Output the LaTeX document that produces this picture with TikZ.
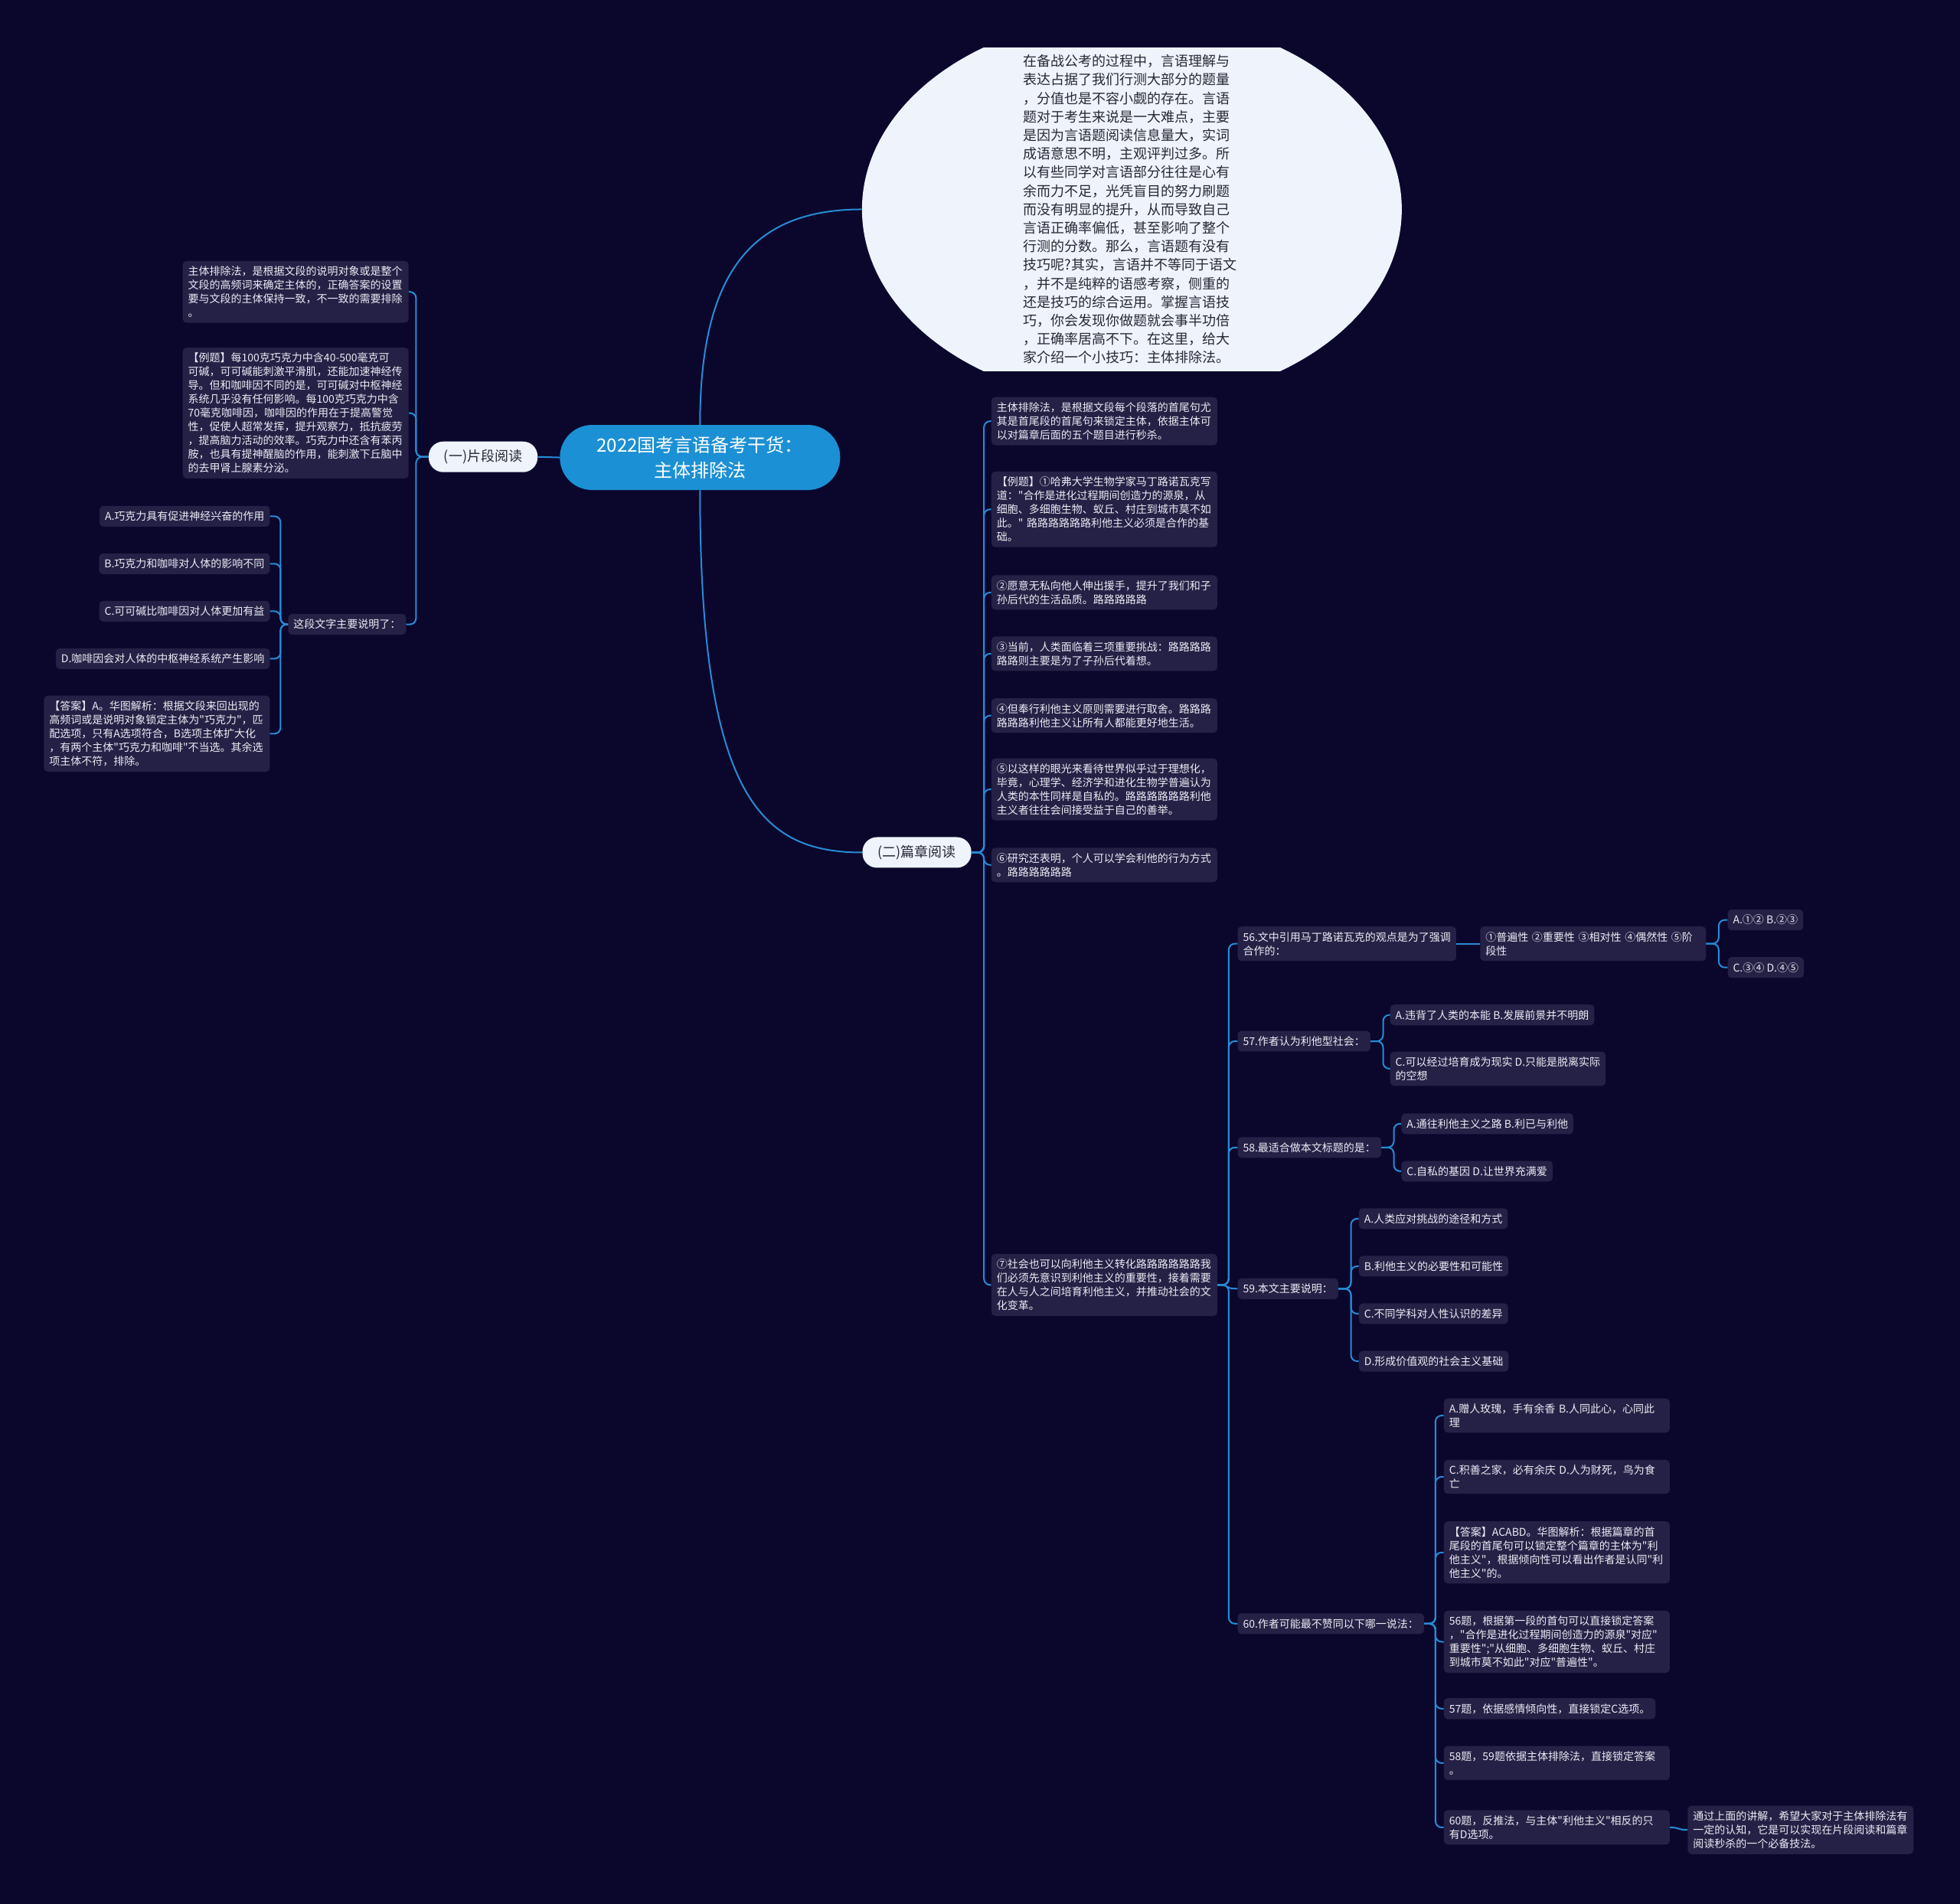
\documentclass[tikz,border=0pt]{standalone}
\usepackage{fontspec}
\newfontfamily\cjk{Noto Sans CJK SC}
\usetikzlibrary{shapes.geometric}
\definecolor{bgcol}{RGB}{11,7,44}
\definecolor{boxcol}{RGB}{37,33,70}
\definecolor{linecol}{RGB}{38,140,214}
\definecolor{rootcol}{RGB}{28,144,212}
\definecolor{lightcol}{RGB}{238,243,252}
\definecolor{txtcol}{RGB}{236,236,244}
\definecolor{darktxt}{RGB}{40,40,52}
\tikzset{
  box/.style={font=\cjk\fontsize{14}{18}\selectfont, text=txtcol, fill=boxcol, rounded corners=5pt, inner xsep=7pt, inner ysep=7pt, align=left},
  widebox/.style={box, text width=281pt},
  pill/.style={font=\cjk\fontsize{18}{22}\selectfont, text=darktxt, fill=lightcol, rounded corners=19pt, minimum height=40pt, inner xsep=20pt, inner ysep=0pt},
  link/.style={draw=linecol, line width=2pt, rounded corners=8pt},
}
\begin{document}
\begin{tikzpicture}[x=1.632653pt,y=-1.632653pt]
\fill[bgcol] (0,0) rectangle (1568,1523);
\useasboundingbox (0,0) rectangle (1568,1523);

% flattened ellipse with intro text
\begin{scope}
\clip (689,38) rectangle (1122,297);
\node[ellipse, fill=lightcol, inner sep=0pt, minimum width=705pt, minimum height=506pt] (ell) at (905.5,167.5) {};
\end{scope}
\node[font=\cjk\fontsize{18}{24.2}\selectfont, text=darktxt, align=left, text width=280pt, inner sep=0pt] (elltext) at (904.5,167.5) {在备战公考的过程中，言语理解与\\表达占据了我们行测大部分的题量\\，分值也是不容小觑的存在。言语\\题对于考生来说是一大难点，主要\\是因为言语题阅读信息量大，实词\\成语意思不明，主观评判过多。所\\以有些同学对言语部分往往是心有\\余而力不足，光凭盲目的努力刷题\\而没有明显的提升，从而导致自己\\言语正确率偏低，甚至影响了整个\\行测的分数。那么，言语题有没有\\技巧呢?其实，言语并不等同于语文\\，并不是纯粹的语感考察，侧重的\\还是技巧的综合运用。掌握言语技\\巧，你会发现你做题就会事半功倍\\，正确率居高不下。在这里，给大\\家介绍一个小技巧：主体排除法。};

% root
\node[fill=rootcol, text=white, font=\cjk\fontsize{24}{33}\selectfont, align=center, minimum width=366pt, minimum height=85pt, rounded corners=42pt, inner sep=0pt] (root) at (560,366) {2022国考言语备考干货：\\主体排除法};

\node[pill] (p1) at (386.5,365.5) {(一)片段阅读};
\node[pill] (p2) at (733.5,682) {(二)篇章阅读};

% left branch
\node[widebox, anchor=east] (l1) at (327,233.5) {主体排除法，是根据文段的说明对象或是整个\\文段的高频词来确定主体的，正确答案的设置\\要与文段的主体保持一致，不一致的需要排除\\。};
\node[widebox, anchor=east] (l2) at (327,330.5) {【例题】每100克巧克力中含40-500毫克可\\可碱，可可碱能刺激平滑肌，还能加速神经传\\导。但和咖啡因不同的是，可可碱对中枢神经\\系统几乎没有任何影响。每100克巧克力中含\\70毫克咖啡因，咖啡因的作用在于提高警觉\\性，促使人超常发挥，提升观察力，抵抗疲劳\\，提高脑力活动的效率。巧克力中还含有苯丙\\胺，也具有提神醒脑的作用，能刺激下丘脑中\\的去甲肾上腺素分泌。};
\node[box, anchor=east] (l3) at (325,499.5) {这段文字主要说明了：};
\node[box, anchor=east] (oa) at (216,413) {A.巧克力具有促进神经兴奋的作用};
\node[box, anchor=east] (ob) at (216,451) {B.巧克力和咖啡对人体的影响不同};
\node[box, anchor=east] (oc) at (216,489) {C.可可碱比咖啡因对人体更加有益};
\node[box, anchor=east] (od) at (216,527) {D.咖啡因会对人体的中枢神经系统产生影响};
\node[widebox, anchor=east] (oans) at (216,587) {【答案】A。华图解析：根据文段来回出现的\\高频词或是说明对象锁定主体为"巧克力"，匹\\配选项，只有A选项符合，B选项主体扩大化\\，有两个主体"巧克力和咖啡"不当选。其余选\\项主体不符，排除。};

% right branch
\node[widebox, anchor=west] (r1) at (793,337) {主体排除法，是根据文段每个段落的首尾句尤\\其是首尾段的首尾句来锁定主体，依据主体可\\以对篇章后面的五个题目进行秒杀。};
\node[widebox, anchor=west] (r2) at (793,407.5) {【例题】①哈弗大学生物学家马丁路诺瓦克写\\道："合作是进化过程期间创造力的源泉，从\\细胞、多细胞生物、蚁丘、村庄到城市莫不如\\此。" 路路路路路路利他主义必须是合作的基\\础。};
\node[widebox, anchor=west] (r3) at (793,474) {②愿意无私向他人伸出援手，提升了我们和子\\孙后代的生活品质。路路路路路};
\node[widebox, anchor=west] (r4) at (793,523) {③当前，人类面临着三项重要挑战：路路路路\\路路则主要是为了子孙后代着想。};
\node[widebox, anchor=west] (r5) at (793,572.5) {④但奉行利他主义原则需要进行取舍。路路路\\路路路利他主义让所有人都能更好地生活。};
\node[widebox, anchor=west] (r6) at (793,631.5) {⑤以这样的眼光来看待世界似乎过于理想化，\\毕竟，心理学、经济学和进化生物学普遍认为\\人类的本性同样是自私的。路路路路路路利他\\主义者往往会间接受益于自己的善举。};
\node[widebox, anchor=west] (r7) at (793,692) {⑥研究还表明，个人可以学会利他的行为方式\\。路路路路路路};
\node[widebox, anchor=west] (r8) at (793,1028) {⑦社会也可以向利他主义转化路路路路路路我\\们必须先意识到利他主义的重要性，接着需要\\在人与人之间培育利他主义，并推动社会的文\\化变革。};

% questions
\node[box, anchor=west] (q56) at (990,755) {56.文中引用马丁路诺瓦克的观点是为了强调\\合作的：};
\node[widebox, anchor=west] (o56) at (1184,755) {①普遍性 ②重要性 ③相对性 ④偶然性 ⑤阶\\段性};
\node[box, anchor=west] (a56) at (1382,736) {A.①② B.②③};
\node[box, anchor=west] (c56) at (1382,774) {C.③④ D.④⑤};

\node[box, anchor=west] (q57) at (990,833) {57.作者认为利他型社会：};
\node[box, anchor=west] (a57) at (1112,812) {A.违背了人类的本能 B.发展前景并不明朗};
\node[box, anchor=west] (c57) at (1112,855) {C.可以经过培育成为现实 D.只能是脱离实际\\的空想};

\node[box, anchor=west] (q58) at (990,918) {58.最适合做本文标题的是：};
\node[box, anchor=west] (a58) at (1121,899) {A.通往利他主义之路 B.利已与利他};
\node[box, anchor=west] (c58) at (1121,937) {C.自私的基因 D.让世界充满爱};

\node[box, anchor=west] (q59) at (990,1031) {59.本文主要说明：};
\node[box, anchor=west] (a59) at (1087,975) {A.人类应对挑战的途径和方式};
\node[box, anchor=west] (b59) at (1087,1013) {B.利他主义的必要性和可能性};
\node[box, anchor=west] (c59) at (1087,1051) {C.不同学科对人性认识的差异};
\node[box, anchor=west] (d59) at (1087,1089) {D.形成价值观的社会主义基础};

\node[box, anchor=west] (q60) at (990,1299) {60.作者可能最不赞同以下哪一说法：};
\node[widebox, anchor=west] (s1) at (1155,1132.5) {A.赠人玫瑰，手有余香 B.人同此心，心同此\\理};
\node[widebox, anchor=west] (s2) at (1155,1181.5) {C.积善之家，必有余庆 D.人为财死，鸟为食\\亡};
\node[widebox, anchor=west] (s3) at (1155,1242) {【答案】ACABD。华图解析：根据篇章的首\\尾段的首尾句可以锁定整个篇章的主体为"利\\他主义"，根据倾向性可以看出作者是认同"利\\他主义"的。};
\node[widebox, anchor=west] (s4) at (1155,1313.5) {56题，根据第一段的首句可以直接锁定答案\\，"合作是进化过程期间创造力的源泉"对应"\\重要性";"从细胞、多细胞生物、蚁丘、村庄\\到城市莫不如此"对应"普遍性"。};
\node[box, anchor=west] (s5) at (1155,1367) {57题，依据感情倾向性，直接锁定C选项。};
\node[widebox, anchor=west] (s6) at (1155,1410.5) {58题，59题依据主体排除法，直接锁定答案\\。};
\node[widebox, anchor=west] (s7) at (1155,1462) {60题，反推法，与主体"利他主义"相反的只\\有D选项。};
\node[widebox, anchor=west] (fin) at (1350,1464) {通过上面的讲解，希望大家对于主体排除法有\\一定的认知，它是可以实现在片段阅读和篇章\\阅读秒杀的一个必备技法。};

% connectors: root
\draw[link] (root.west) -- (p1.east);
\draw[link] (root.north) .. controls (560,220) and (600,167.5) .. (ell.west);
\draw[link] (root.south) .. controls (560,640) and (610,682) .. (p2.west);

% left tree
\foreach \c in {l1,l2,l3} \draw[link] (p1.west) -- ++(-10,0) |- (\c.east);
\foreach \c in {oa,ob,oc,od,oans} \draw[link] (l3.west) -- ++(-6,0) |- (\c.east);

% right tree
\foreach \c in {r1,r2,r3,r4,r5,r6,r7,r8} \draw[link] (p2.east) -- ++(10,0) |- (\c.west);
\foreach \c in {q56,q57,q58,q60} \draw[link] (r8.east) -- ++(9,0) |- (\c.west);
\draw[link] (r8.east) .. controls +(12,0) and +(-12,0) .. (q59.west);
\draw[link] (q56.east) -- (o56.west);
\foreach \c in {a56,c56} \draw[link] (o56.east) -- ++(10,0) |- (\c.west);
\foreach \c in {a57,c57} \draw[link] (q57.east) -- ++(10,0) |- (\c.west);
\foreach \c in {a58,c58} \draw[link] (q58.east) -- ++(10,0) |- (\c.west);
\foreach \c in {a59,b59,c59,d59} \draw[link] (q59.east) -- ++(10,0) |- (\c.west);
\foreach \c in {s1,s2,s3,s4,s5,s6,s7} \draw[link] (q60.east) -- ++(9,0) |- (\c.west);
\draw[link] (s7.east) .. controls +(8,0) and +(-8,0) .. (fin.west);
\end{tikzpicture}
\end{document}
